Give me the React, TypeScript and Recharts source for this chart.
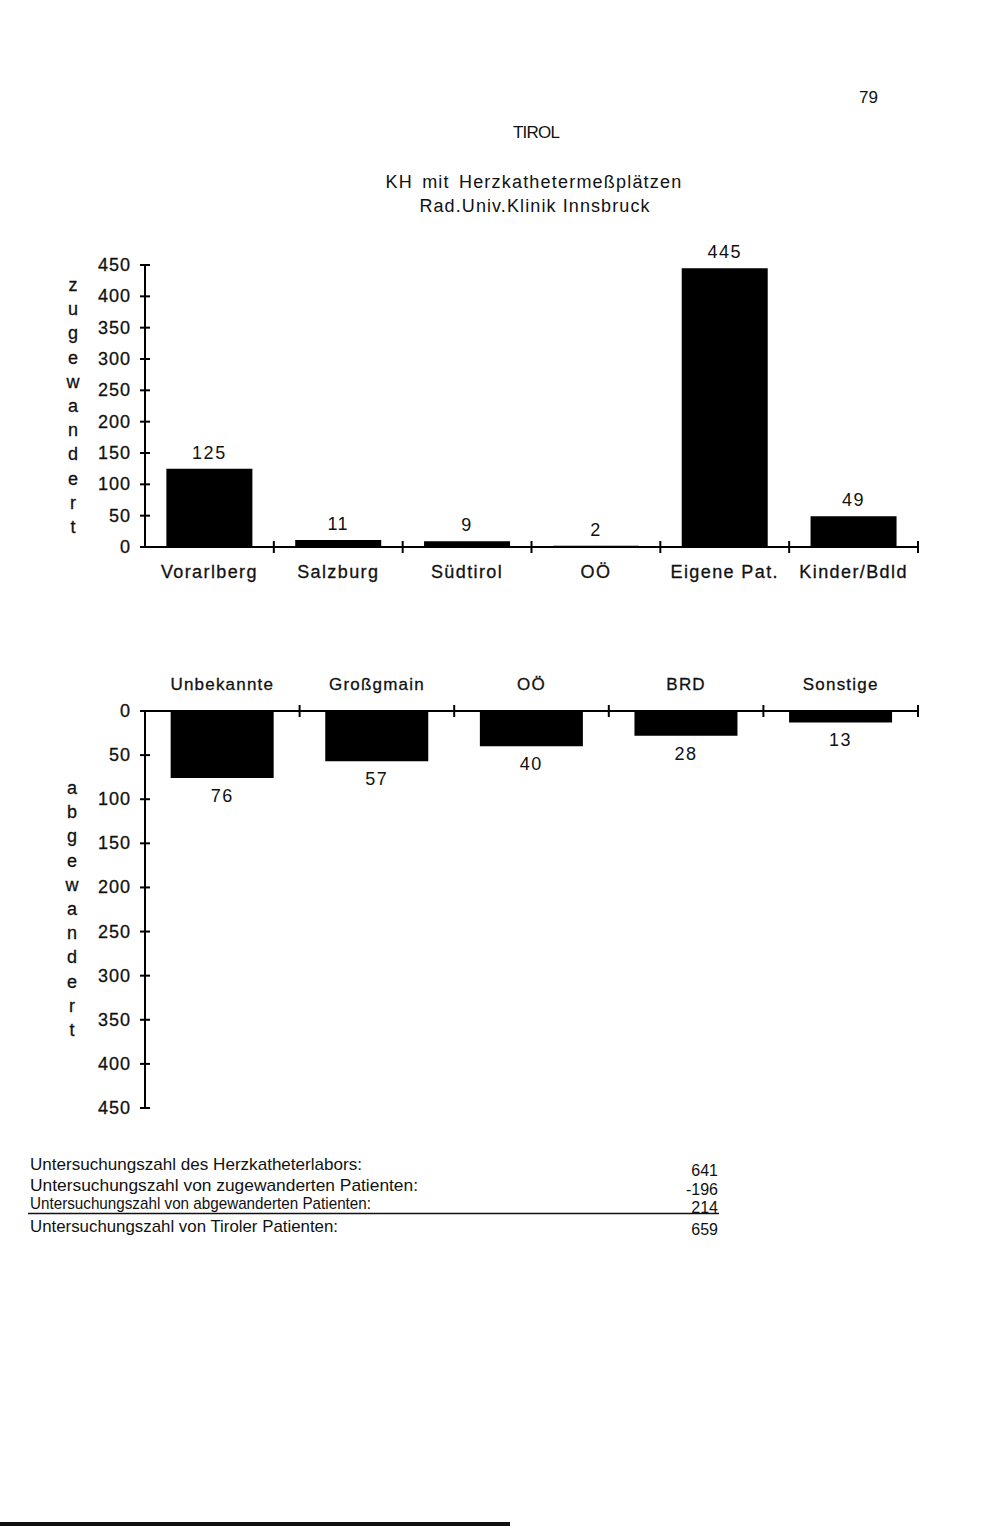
import React from 'react';
import { BarChart, Bar, XAxis, YAxis, LabelList } from 'recharts';

// ---------- data ----------
const zuCategories = ['Vorarlberg', 'Salzburg', 'Südtirol', 'OÖ', 'Eigene Pat.', 'Kinder/Bdld'];
const zuValues = [125, 11, 9, 2, 445, 49];
const abCategories = ['Unbekannte', 'Großgmain', 'OÖ', 'BRD', 'Sonstige'];
const abValues = [76, 57, 40, 28, 13];
const yTicks = [0, 50, 100, 150, 200, 250, 300, 350, 400, 450];
const zuTitle = 'zugewandert';
const abTitle = 'abgewandert';
const summaryLabels = [
  'Untersuchungszahl des Herzkatheterlabors:',
  'Untersuchungszahl von zugewanderten Patienten:',
  'Untersuchungszahl von abgewanderten Patienten:',
  'Untersuchungszahl von Tiroler Patienten:',
];
const summaryValues = ['641', '-196', '214', '659'];

const zuData = zuCategories.map((name, i) => ({ name, v: zuValues[i] }));
const abData = abCategories.map((name, i) => ({ name, v: abValues[i] }));

// ---------- layout ----------
const PAGE_W = 994;
const PAGE_H = 1527;
const FONT = "'Liberation Sans', Arial, Helvetica, sans-serif";
const INK = '#111';
const PLOT_LEFT = 145;
const PLOT_RIGHT = 918;
const Y_AXIS_W = 60;
const PLOT_W = PLOT_RIGHT - PLOT_LEFT;

const SUMMARY_LABEL_Y = [1170, 1191, 1209, 1232];
const SUMMARY_LABEL_W = [332, 388, 341, 308];
const SUMMARY_VALUE_Y = [1176, 1195, 1213, 1235];

const makeYTick = () => (props: any) => {
  const { x, y, payload } = props;
  return (
    <g>
      <line x1={x - 5} x2={x + 5} y1={y} y2={y} stroke="#000" strokeWidth={2} />
      <text
        x={x - 14}
        y={y}
        dy={6}
        textAnchor="end"
        fontFamily={FONT}
        fontSize={18}
        letterSpacing={1}
        fill={INK}
        stroke={INK}
        strokeWidth={0.3}
      >
        {payload.value}
      </text>
    </g>
  );
};

const makeXTick = (n: number, labelDy: number, fontSize: number, ls: number) => (props: any) => {
  const { x, y, payload } = props;
  const half = PLOT_W / n / 2;
  return (
    <g>
      <line x1={x + half} x2={x + half} y1={y - 6} y2={y + 6} stroke="#000" strokeWidth={2} />
      <text
        x={x}
        y={y + labelDy}
        textAnchor="middle"
        fontFamily={FONT}
        fontSize={fontSize}
        letterSpacing={ls}
        fill={INK}
        stroke={INK}
        strokeWidth={0.3}
      >
        {payload.value}
      </text>
    </g>
  );
};

const readBox = (p: any) => {
  const vb = p.viewBox || {};
  const x = p.x ?? vb.x;
  const y = p.y ?? vb.y;
  const width = p.width ?? vb.width;
  const height = p.height ?? vb.height;
  return { x: Number(x), y: Number(y), width: Number(width), height: Number(height) };
};

const TopValueLabel = (p: any) => {
  const b = readBox(p);
  const top = Math.min(b.y, b.y + b.height);
  return (
    <text
      x={b.x + b.width / 2}
      y={top - 10}
      textAnchor="middle"
      fontFamily={FONT}
      fontSize={18}
      letterSpacing={1.5}
      fill={INK}
    >
      {p.value}
    </text>
  );
};

const BottomValueLabel = (p: any) => {
  const b = readBox(p);
  const bottom = Math.max(b.y, b.y + b.height);
  return (
    <text
      x={b.x + b.width / 2}
      y={bottom + 24}
      textAnchor="middle"
      fontFamily={FONT}
      fontSize={18}
      letterSpacing={1.5}
      fill={INK}
    >
      {p.value}
    </text>
  );
};

const TOP_T = 225;
const TOP_H = 382;
const BOT_T = 630;
const BOT_H = 498;

const VerticalTitle = ({ text, x, y0, step }: { text: string; x: number; y0: number; step: number }) => (
  <g>
    {text.split('').map((ch, i) => (
      <text
        key={i}
        x={x}
        y={y0 + i * step}
        textAnchor="middle"
        fontFamily={FONT}
        fontSize={18}
        fill={INK}
        stroke={INK}
        strokeWidth={0.3}
      >
        {ch}
      </text>
    ))}
  </g>
);

export default function App() {
  return (
    <div
      style={{
        position: 'absolute',
        left: 0,
        top: 0,
        width: PAGE_W,
        height: PAGE_H,
        background: '#fff',
        overflow: 'hidden',
      }}
    >
      <svg width={PAGE_W} height={PAGE_H} style={{ position: 'absolute', left: 0, top: 0 }}>
        <text x={878} y={103} textAnchor="end" fontFamily={FONT} fontSize={17} fill={INK}>
          79
        </text>
        <text x={536} y={138} textAnchor="middle" fontFamily={FONT} fontSize={17} letterSpacing={-0.8} fill={INK}>
          TIROL
        </text>
        <text
          x={534}
          y={188}
          textAnchor="middle"
          fontFamily={FONT}
          fontSize={18}
          letterSpacing={1.2}
          wordSpacing={3}
          fill={INK}
        >
          KH mit Herzkathetermeßplätzen
        </text>
        <text x={535} y={212} textAnchor="middle" fontFamily={FONT} fontSize={18} letterSpacing={1.1} fill={INK}>
          Rad.Univ.Klinik Innsbruck
        </text>

        <VerticalTitle text={zuTitle} x={73} y0={291} step={24.2} />
        <VerticalTitle text={abTitle} x={72} y0={794} step={24.2} />

        {summaryLabels.map((s, i) => (
          <text
            key={'l' + i}
            x={30}
            y={SUMMARY_LABEL_Y[i]}
            fontFamily={FONT}
            fontSize={17}
            textLength={SUMMARY_LABEL_W[i]}
            lengthAdjust="spacingAndGlyphs"
            fill={INK}
          >
            {s}
          </text>
        ))}
        {summaryValues.map((s, i) => (
          <text
            key={'v' + i}
            x={718}
            y={SUMMARY_VALUE_Y[i]}
            textAnchor="end"
            fontFamily={FONT}
            fontSize={16}
            fill={INK}
          >
            {s}
          </text>
        ))}
        <line x1={28} x2={719} y1={1213.5} y2={1213.5} stroke={INK} strokeWidth={1.5} />
        <rect x={0} y={1522} width={510} height={4} fill={INK} />
      </svg>

      <div style={{ position: 'absolute', left: 0, top: TOP_T }}>
        <BarChart
          width={PAGE_W}
          height={TOP_H}
          data={zuData}
          margin={{ top: 40, right: PAGE_W - PLOT_RIGHT, bottom: 20, left: PLOT_LEFT - Y_AXIS_W }}
          barCategoryGap="16.6%"
        >
          <XAxis
            dataKey="name"
            interval={0}
            height={40}
            tickSize={0}
            tickMargin={0}
            tickLine={false}
            axisLine={{ stroke: '#000', strokeWidth: 2 }}
            tick={makeXTick(zuCategories.length, 31, 18, 1.4)}
          />
          <YAxis
            width={Y_AXIS_W}
            domain={[0, 450]}
            ticks={yTicks}
            interval={0}
            tickSize={0}
            tickMargin={0}
            tickLine={false}
            axisLine={{ stroke: '#000', strokeWidth: 2 }}
            tick={makeYTick()}
          />
          <Bar dataKey="v" fill="#000" isAnimationActive={false}>
            <LabelList dataKey="v" content={TopValueLabel} />
          </Bar>
        </BarChart>
      </div>

      <div style={{ position: 'absolute', left: 0, top: BOT_T }}>
        <BarChart
          width={PAGE_W}
          height={BOT_H}
          data={abData}
          margin={{ top: 41, right: PAGE_W - PLOT_RIGHT, bottom: 20, left: PLOT_LEFT - Y_AXIS_W }}
          barCategoryGap="16.6%"
        >
          <XAxis
            dataKey="name"
            orientation="top"
            interval={0}
            height={40}
            tickSize={0}
            tickMargin={0}
            tickLine={false}
            axisLine={{ stroke: '#000', strokeWidth: 2 }}
            tick={makeXTick(abCategories.length, -21, 17, 1.2)}
          />
          <YAxis
            width={Y_AXIS_W}
            reversed
            domain={[0, 450]}
            ticks={yTicks}
            interval={0}
            tickSize={0}
            tickMargin={0}
            tickLine={false}
            axisLine={{ stroke: '#000', strokeWidth: 2 }}
            tick={makeYTick()}
          />
          <Bar dataKey="v" fill="#000" isAnimationActive={false}>
            <LabelList dataKey="v" content={BottomValueLabel} />
          </Bar>
        </BarChart>
      </div>
    </div>
  );
}
